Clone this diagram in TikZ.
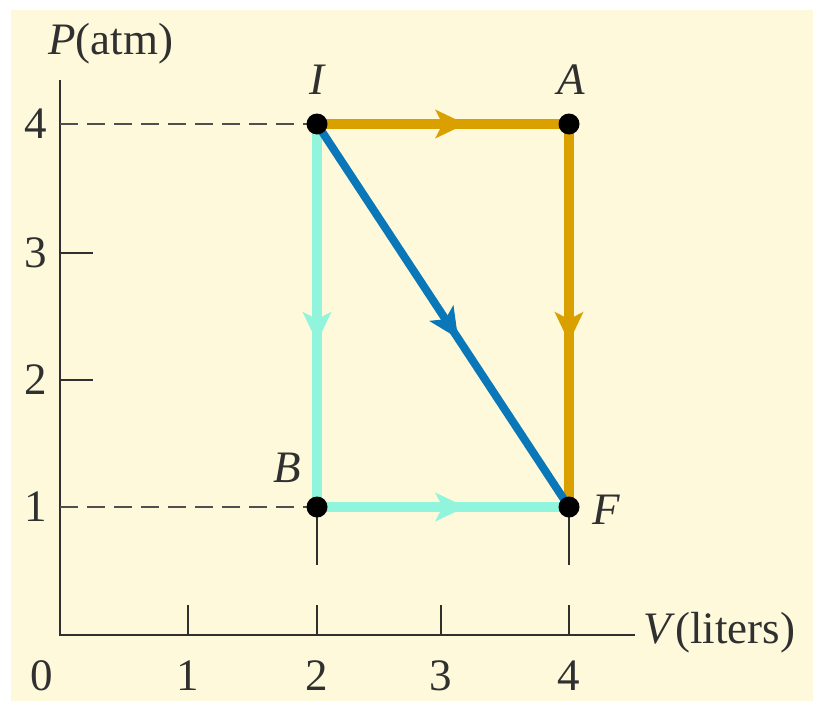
\documentclass[tikz,border=0pt]{standalone}
\usepackage{fontspec}
\setmainfont{Liberation Serif}
\usetikzlibrary{arrows.meta,decorations.markings}
\definecolor{cream}{HTML}{FDF9DA}
\definecolor{gold}{HTML}{D9A000}
\definecolor{aqua}{HTML}{90F5DC}
\definecolor{deepblue}{HTML}{0A78B8}
\definecolor{axisgray}{HTML}{303030}
\tikzset{
  axisline/.style={line width=2.8pt, draw=axisgray},
  dashline/.style={line width=2.6pt, draw=axisgray!85, dash pattern=on 18pt off 9pt},
  path/.style={line width=9.5pt},
  midarrow/.style 2 args={postaction={decorate}, decoration={markings,
      mark=at position #1 with {\arrow{Stealth[length=30pt,width=28pt,inset=7pt,#2]}}}},
  dot/.style={circle, fill=black, inner sep=0pt, minimum size=21pt},
  lbl/.style={font=\fontsize{45}{45}\selectfont, inner sep=0pt, text=axisgray},
  ilbl/.style={font=\fontsize{45}{45}\selectfont\itshape, inner sep=0pt, text=axisgray}
}
\begin{document}
\begin{tikzpicture}[x=1pt,y=-1pt]
\useasboundingbox (0,0) rectangle (813,701);
\fill[white] (0,0) rectangle (813,701);
\fill[cream] (11,10) rectangle (813,701);
% state points
\coordinate (I) at (317,124);
\coordinate (A) at (569,124);
\coordinate (B) at (317,507);
\coordinate (F) at (569,507);
\coordinate (O) at (60,635);
\coordinate (Ytop) at (60,80);
\coordinate (Xend) at (635,635);
% axes
\draw[axisline] (Ytop) -- (O) -- (Xend);
\foreach \x in {188,317,441,569} \draw[axisline] (\x,635) -- (\x,605);
\foreach \y in {253,380} \draw[axisline] (60,\y) -- (93,\y);
\draw[dashline] (60,124) -- (I);
\draw[dashline] (60,507) -- (B);
\coordinate (Bd) at (317,565);
\coordinate (Fd) at (569,565);
\draw[axisline] (B) -- (Bd);
\draw[axisline] (F) -- (Fd);
% paths
\draw[path, aqua, midarrow={0.57}{aqua}] (I) -- (B);
\draw[path, aqua, midarrow={0.59}{aqua}] (B) -- (F);
\draw[path, gold, midarrow={0.59}{gold}] (I) -- (A);
\draw[path, gold, midarrow={0.57}{gold}] (A) -- (F);
\draw[path, line width=8pt, deepblue, midarrow={0.56}{deepblue}] (I) -- (F);
% dots
\foreach \p in {I,A,B,F} \node[dot] at (\p) {};
% labels
\node[ilbl] at (317,80) {I};
\node[ilbl] at (571,80) {A};
\node[ilbl] at (287,468) {B};
\node[ilbl, anchor=west] at (592,510) {F};
\node[lbl, anchor=west] at (48,44) {\textit{P}(atm)};
\node[lbl, anchor=west] at (643,633) {\textit{V}(liters)};
\node[lbl] at (36,124) {4};
\node[lbl] at (36,253) {3};
\node[lbl] at (36,380) {2};
\node[lbl] at (36,507) {1};
\node[lbl] at (42,676) {0};
\node[lbl] at (188,676) {1};
\node[lbl] at (317,676) {2};
\node[lbl] at (441,676) {3};
\node[lbl] at (569,676) {4};
\end{tikzpicture}
\end{document}
